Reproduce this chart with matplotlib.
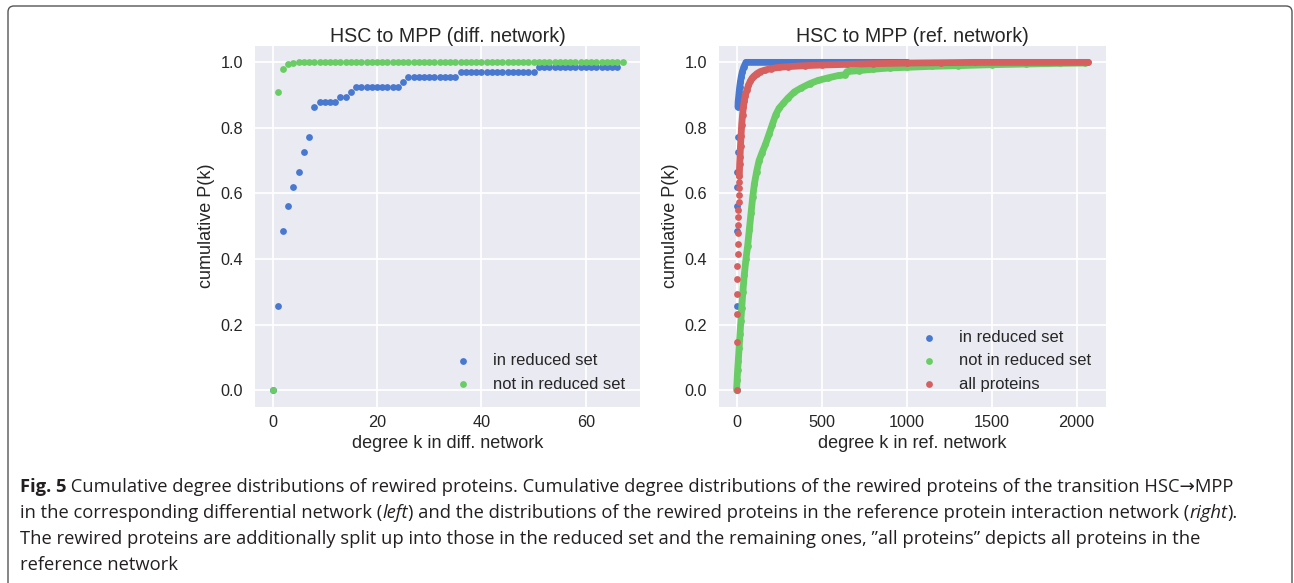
import matplotlib
matplotlib.use("Agg")
import matplotlib.pyplot as plt
from matplotlib.patches import FancyBboxPatch

W, H = 1294, 583

# old seaborn "muted" colours
BLUE = "#4878CF"
GREEN = "#6ACC65"
RED = "#D65F5F"

LABELS = ["in reduced set", "not in reduced set", "all proteins"]

# left panel: cumulative P(k) in the differential network, one point per integer k
diff_k_reduced = list(range(0, 67))
diff_p_reduced = [
    0.0, 0.258, 0.485, 0.561, 0.621, 0.667, 0.727, 0.773, 0.864,
    0.879, 0.879, 0.879, 0.879, 0.894, 0.894, 0.909,
    0.924, 0.924, 0.924, 0.924, 0.924, 0.924, 0.924, 0.924, 0.924,
    0.939,
    0.955, 0.955, 0.955, 0.955, 0.955, 0.955, 0.955, 0.955, 0.955, 0.955,
    0.970, 0.970, 0.970, 0.970, 0.970, 0.970, 0.970, 0.970, 0.970, 0.970,
    0.970, 0.970, 0.970, 0.970, 0.970,
    0.985, 0.985, 0.985, 0.985, 0.985, 0.985, 0.985, 0.985, 0.985, 0.985,
    0.985, 0.985, 0.985, 0.985, 0.985, 0.985,
]
diff_k_other = list(range(0, 68))
diff_p_other = [
    0.0, 0.910, 0.979, 0.995, 0.999,
    1.0, 1.0, 1.0, 1.0, 1.0, 1.0, 1.0, 1.0, 1.0, 1.0, 1.0, 1.0, 1.0, 1.0, 1.0, 1.0,
    1.0, 1.0, 1.0, 1.0, 1.0, 1.0, 1.0, 1.0, 1.0, 1.0, 1.0, 1.0, 1.0, 1.0, 1.0, 1.0,
    1.0, 1.0, 1.0, 1.0, 1.0, 1.0, 1.0, 1.0, 1.0, 1.0, 1.0, 1.0, 1.0, 1.0, 1.0, 1.0,
    1.0, 1.0, 1.0, 1.0, 1.0, 1.0, 1.0, 1.0, 1.0, 1.0, 1.0, 1.0, 1.0, 1.0, 1.0,
]

# right panel: cumulative P(k) in the reference network
ref_k_reduced = [0, 1, 2, 3, 4, 5, 6, 7, 8, 9, 12, 15, 18, 22, 27, 33, 42, 55,
                 200, 400, 600, 800, 1000]
ref_p_reduced = [0.0, 0.258, 0.485, 0.561, 0.621, 0.667, 0.727, 0.773, 0.864,
                 0.879, 0.894, 0.909, 0.924, 0.939, 0.955, 0.970, 0.985, 1.0,
                 1.0, 1.0, 1.0, 1.0, 1.0]

ref_k_other = [0, 3, 6, 10, 15, 20, 25, 30, 37, 45, 55, 65, 75, 85, 95, 105, 118,
               132, 150, 170, 190, 210, 230, 250, 275, 300, 340, 380, 430, 480,
               540, 600, 635, 650, 720, 800, 900, 1000, 1150, 1300, 1500, 1700,
               1900, 2050]
ref_p_other = [0.0, 0.03, 0.06, 0.09, 0.13, 0.17, 0.21, 0.25, 0.30, 0.35, 0.40,
               0.44, 0.49, 0.54, 0.59, 0.63, 0.667, 0.70, 0.725, 0.75, 0.78,
               0.81, 0.84, 0.86, 0.875, 0.89, 0.91, 0.922, 0.935, 0.945, 0.953,
               0.96, 0.962, 0.972, 0.975, 0.979, 0.983, 0.985, 0.988, 0.99,
               0.993, 0.995, 0.997, 0.998]

ref_k_all = [0, 1, 2, 3, 4, 5, 6, 7, 8, 9, 10, 11, 12, 13, 14, 15, 16,
             18, 20, 23, 26, 30, 35, 40, 45, 50, 60, 70, 80, 90, 100, 120, 140,
             170, 200, 250, 300, 400, 500, 650, 800, 1000, 1200, 1400, 1700, 2070]
ref_p_all = [0.0, 0.146, 0.232, 0.293, 0.340, 0.379, 0.414, 0.447, 0.478, 0.504,
             0.527, 0.551, 0.574, 0.595, 0.617, 0.635, 0.653,
             0.69, 0.71, 0.745, 0.775, 0.81, 0.84, 0.865, 0.883, 0.897, 0.915,
             0.93, 0.942, 0.951, 0.957, 0.966, 0.972, 0.977, 0.981, 0.985,
             0.987, 0.990, 0.992, 0.994, 0.996, 0.998, 0.999, 1.0, 1.0, 1.0]

# how many leading points stay visible as separate dots (the rest merge into a band)
SPARSE = {"reduced": 9, "other": 1, "all": 17}

caption_lines = [
    [("Fig. 5", "bold", "normal"),
     (" Cumulative degree distributions of rewired proteins. Cumulative degree "
      "distributions of the rewired proteins of the transition HSC\u2192MPP", "normal", "normal")],
    [("in the corresponding differential network (", "normal", "normal"),
     ("left", "normal", "italic"),
     (") and the distributions of the rewired proteins in the reference protein "
      "interaction network (", "normal", "normal"),
     ("right", "normal", "italic"),
     (").", "normal", "normal")],
    [("The rewired proteins are additionally split up into those in the reduced set "
      "and the remaining ones, \u201dall proteins\u201d depicts all proteins in the",
      "normal", "normal")],
    [("reference network", "normal", "normal")],
]

plt.rcParams.update({
    "font.family": ["Liberation Sans", "DejaVu Sans"],
    "axes.facecolor": "#EAEAF2",
    "axes.edgecolor": "white",
    "axes.grid": True,
    "axes.axisbelow": True,
    "grid.color": "white",
    "grid.linewidth": 1.3,
    "xtick.major.size": 0,
    "ytick.major.size": 0,
    "text.color": ".15",
    "axes.labelcolor": ".15",
    "xtick.color": ".15",
    "ytick.color": ".15",
})

fig = plt.figure(figsize=(W / 100, H / 100), dpi=100)
ax1 = fig.add_axes([255 / W, 1 - 406.5 / H, 385 / W, 360.5 / H])
ax2 = fig.add_axes([719 / W, 1 - 406.5 / H, 387 / W, 360.5 / H])

MS = 24     # marker area, points^2
BAND = 4.9  # band width = marker diameter, points

ax1.scatter(diff_k_reduced, diff_p_reduced, s=MS, color=BLUE, lw=0, label=LABELS[0], zorder=3)
ax1.scatter(diff_k_other, diff_p_other, s=MS, color=GREEN, lw=0, label=LABELS[1], zorder=4)

series = [
    (ref_k_reduced, ref_p_reduced, BLUE, LABELS[0], SPARSE["reduced"], 3),
    (ref_k_other, ref_p_other, GREEN, LABELS[1], SPARSE["other"], 4),
    (ref_k_all, ref_p_all, RED, LABELS[2], SPARSE["all"], 5),
]
for k, p, c, lab, n, z in series:
    ax2.plot(k[n - 1:], p[n - 1:], color=c, lw=BAND, solid_capstyle="round",
             solid_joinstyle="round", zorder=z)
    ax2.scatter(k, p, s=MS, color=c, lw=0, label=lab, zorder=z + 0.1)

for ax, title, xlabel in [(ax1, "HSC to MPP (diff. network)", "degree k in diff. network"),
                          (ax2, "HSC to MPP (ref. network)", "degree k in ref. network")]:
    for s in ax.spines.values():
        s.set_visible(False)
    ax.tick_params(axis="x", labelsize=11.7, pad=6)
    ax.tick_params(axis="y", labelsize=11.7, pad=8.5)
    ax.set_title(title, fontsize=14.1, pad=1.5)
    ax.set_xlabel(xlabel, fontsize=13)
    ax.set_ylabel("cumulative P(k)", fontsize=13)
    ax.legend(loc="lower right", frameon=False, fontsize=11.9, labelspacing=0.5,
              handlelength=2.0, handletextpad=0.8, scatterpoints=1)

# caption box
box = FancyBboxPatch((0.08, -0.2), 12.84, 5.77 + 0.2, boxstyle="round,pad=0,rounding_size=0.06",
                     transform=fig.dpi_scale_trans, facecolor="none", edgecolor="#555555",
                     lw=1.0, zorder=0)
fig.patches.append(box)

CAP_FONT = ["Open Sans", "DejaVu Sans"]
CAP_COLOR = "#231f20"
renderer = fig.canvas.get_renderer()


def draw_line(segments, x0, baseline, size):
    x = x0
    drawn = []
    for txt, weight, style in segments:
        t = fig.text(x / W, 1 - baseline / H, txt, fontsize=size, fontweight=weight,
                     fontstyle=style, family=CAP_FONT, color=CAP_COLOR,
                     ha="left", va="baseline")
        x = t.get_window_extent(renderer).x1
        drawn.append(t)
    return drawn, x - x0


# fit the caption font so the first line spans the same width as in the figure
tmp, width = draw_line(caption_lines[0], 20, 492, 10)
for t in tmp:
    t.remove()
cap_size = 10 * 1219 / width

for line, baseline in zip(caption_lines, [492, 518, 544, 570]):
    draw_line(line, 20, baseline, cap_size)

fig.savefig("out.png", dpi=100)
